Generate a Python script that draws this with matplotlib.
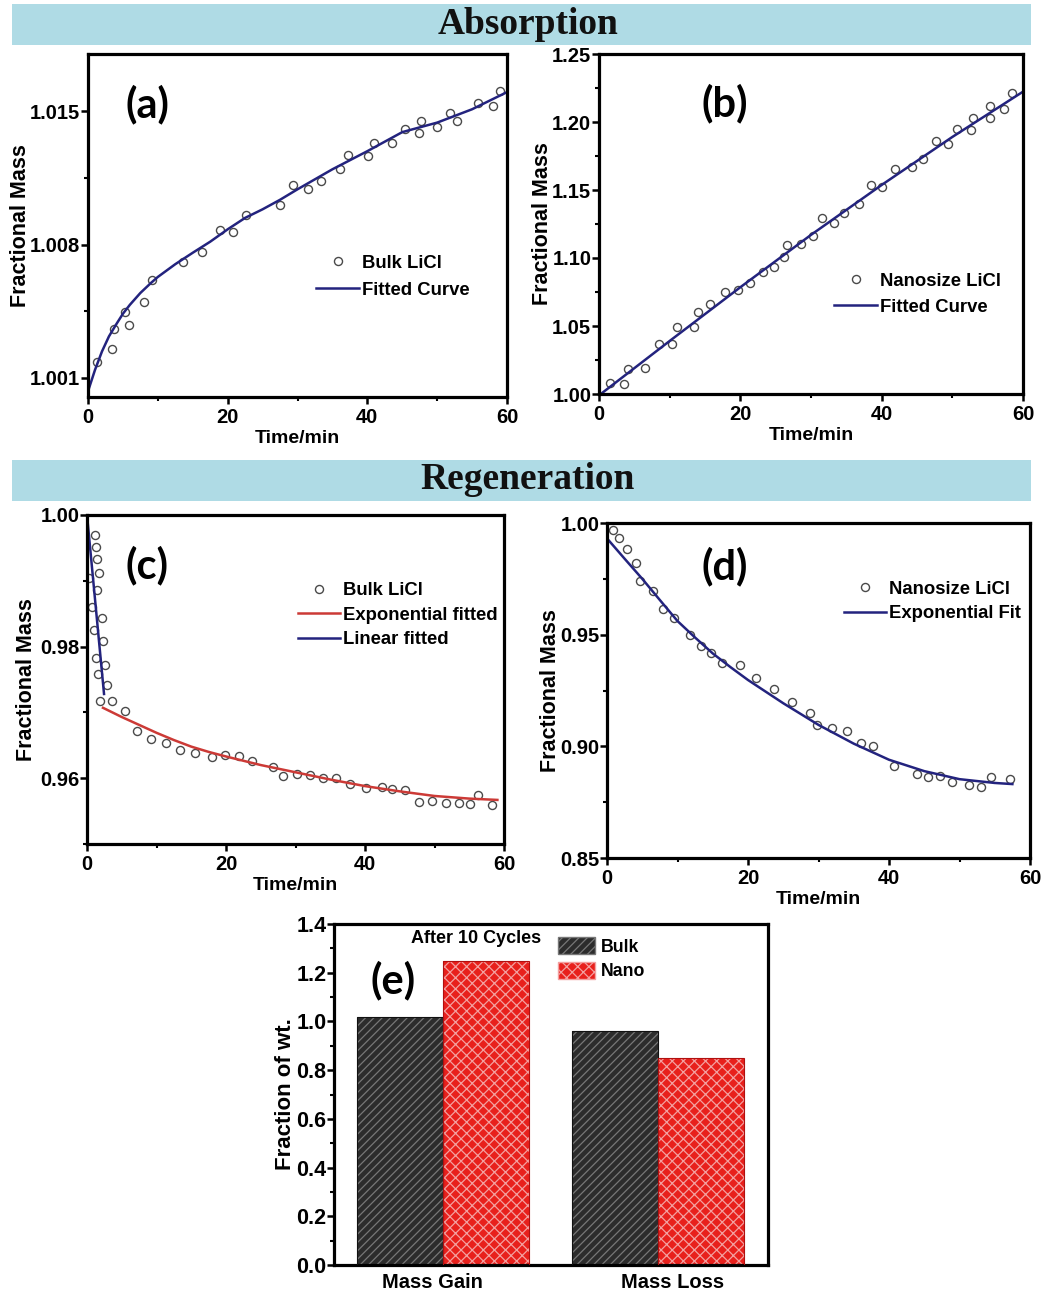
import matplotlib
matplotlib.use("Agg")
import matplotlib.pyplot as plt
import matplotlib.transforms as mtransforms
from matplotlib.patches import Rectangle, Patch
from matplotlib.ticker import MultipleLocator, FixedLocator, FormatStrFormatter

# ---- (a) absorption, bulk LiCl ------------------------------------------
a_t = [1.34, 3.5, 3.7, 5.3, 5.8, 8.0, 9.2, 13.6, 16.3, 18.9, 20.8, 22.6,
       27.5, 29.3, 31.5, 33.4, 36.1, 37.2, 40.1, 40.9, 43.5, 45.4, 47.4,
       47.7, 50.0, 51.9, 52.9, 55.8, 58.0, 59.0]
a_m = [1.00184, 1.00251, 1.00359, 1.00445, 1.00378, 1.00499, 1.00615,
       1.00707, 1.00760, 1.00874, 1.00865, 1.00955, 1.01007, 1.01111,
       1.01094, 1.01136, 1.01196, 1.01270, 1.01264, 1.01331, 1.01331,
       1.01407, 1.01387, 1.01451, 1.01419, 1.01488, 1.01451, 1.01542,
       1.01528, 1.01605]
a_fit_t = [0, 1, 2, 3, 4, 5, 6, 7.5, 9, 10, 12.5, 15, 17.5, 20, 22.5, 25,
           27.5, 30, 35, 40, 45, 50, 55, 60]
a_fit_m = [1.00030, 1.00142, 1.00239, 1.00318, 1.00379, 1.00437, 1.00484,
           1.00546, 1.00598, 1.00630, 1.00697, 1.00757, 1.00815, 1.00880,
           1.00940, 1.00985, 1.01035, 1.01090, 1.01195, 1.01290, 1.01390,
           1.01440, 1.01510, 1.01600]

# ---- (b) absorption, nanosize LiCl --------------------------------------
b_t = [1.56, 3.5, 4.15, 6.5, 8.5, 10.4, 11.0, 13.4, 13.95, 15.75, 17.9,
       19.7, 21.4, 23.2, 24.8, 26.2, 26.6, 28.6, 30.3, 31.6, 33.25, 34.65,
       36.8, 38.5, 40.1, 41.9, 44.3, 45.9, 47.7, 49.4, 50.6, 52.7, 52.9,
       55.3, 55.4, 57.25, 58.4]
b_m = [1.0078, 1.0071, 1.0181, 1.0194, 1.0365, 1.0365, 1.0490, 1.0495,
       1.0605, 1.0659, 1.0752, 1.0765, 1.0814, 1.0895, 1.0936, 1.1010,
       1.1098, 1.1100, 1.1162, 1.1292, 1.1260, 1.1328, 1.1397, 1.1539,
       1.1525, 1.1654, 1.1672, 1.1725, 1.1863, 1.1841, 1.1951, 1.1941,
       1.2027, 1.2032, 1.2118, 1.2093, 1.2211]
b_fit_t = [0, 10, 20, 30, 40, 50, 60]
b_fit_m = [0.999, 1.039, 1.0785, 1.117, 1.1537, 1.189, 1.2223]

# ---- (c) regeneration, bulk LiCl ----------------------------------------
c_t = [0.3, 0.67, 1.0, 1.1, 1.25, 1.44, 1.68, 1.44, 1.35, 1.58, 2.2, 2.35,
       2.6, 2.83, 1.82, 3.6, 5.5, 7.2, 9.2, 11.4, 13.4, 15.5, 18.0, 19.9,
       21.8, 23.8, 26.8, 28.2, 30.2, 32.1, 34.0, 35.8, 37.9, 40.1, 42.4,
       43.9, 45.75, 47.8, 49.7, 51.6, 53.5, 55.1, 56.2, 58.3]
c_m = [0.9904, 0.9860, 0.9825, 0.9969, 0.9951, 0.9933, 0.9912, 0.9886,
       0.9782, 0.9759, 0.9843, 0.9809, 0.9772, 0.9742, 0.9718, 0.9717,
       0.9702, 0.9671, 0.9659, 0.9653, 0.9643, 0.9639, 0.9632, 0.9636,
       0.9633, 0.9626, 0.9617, 0.9603, 0.9607, 0.9605, 0.9601, 0.9600,
       0.9591, 0.9585, 0.9587, 0.9584, 0.9582, 0.9564, 0.9565, 0.9562,
       0.9562, 0.9561, 0.9574, 0.9559]
c_lin_t = [0.0, 2.45]
c_lin_m = [1.000, 0.9728]
c_exp_t = [2.3, 5, 7.5, 10, 12.5, 15, 17.5, 20, 25, 30, 35, 40, 45, 50, 55,
           59.05]
c_exp_m = [0.9707, 0.9693, 0.9681, 0.9669, 0.9658, 0.9648, 0.9640, 0.9633,
           0.9620, 0.9609, 0.9598, 0.9588, 0.9580, 0.9573, 0.9569, 0.9567]

# ---- (d) regeneration, nanosize LiCl ------------------------------------
d_t = [0.85, 1.7, 2.9, 4.06, 4.7, 6.57, 7.98, 9.5, 11.76, 13.3, 14.8, 16.25,
       18.85, 21.07, 23.67, 26.3, 28.8, 29.76, 31.98, 34.0, 36.0, 37.8,
       40.67, 44.0, 45.6, 47.2, 48.9, 51.3, 53.1, 54.5, 57.2]
d_m = [0.9967, 0.9934, 0.9884, 0.9821, 0.9739, 0.9695, 0.9614, 0.9574,
       0.9498, 0.9450, 0.9418, 0.9374, 0.9365, 0.9306, 0.9258, 0.9199,
       0.9148, 0.9094, 0.9084, 0.9069, 0.9017, 0.9002, 0.8914, 0.8875,
       0.8862, 0.8865, 0.8841, 0.8828, 0.8820, 0.8863, 0.8853]
d_fit_t = [0, 2.5, 5, 7.5, 10, 12.5, 15, 17.5, 20, 25, 30, 35, 40, 45, 50,
           55, 57.5]
d_fit_m = [0.9931, 0.9840, 0.9750, 0.9655, 0.9561, 0.9487, 0.9416, 0.9355,
           0.9297, 0.9193, 0.9096, 0.9012, 0.8940, 0.8889, 0.8853, 0.8836,
           0.8831]

# ---- (e) after 10 cycles ------------------------------------------------
e_groups = ["Mass Gain", "Mass Loss"]
e_bulk = [1.02, 0.96]
e_nano = [1.25, 0.85]

W, H = 1045, 1295
FONT = ["Liberation Sans", "DejaVu Sans"]
plt.rcParams["font.family"] = FONT
plt.rcParams["font.weight"] = "bold"
plt.rcParams["axes.labelweight"] = "bold"
plt.rcParams["hatch.linewidth"] = 0.9

NAVY = "#23237e"
RED = "#cc3a36"
MK = dict(ls="none", marker="o", ms=5.8, mfc="none", mec="#4a4a4a", mew=1.0)

fig = plt.figure(figsize=(W / 100, H / 100), dpi=100)


def px_axes(l, r, t, b):
    return fig.add_axes([l / W, 1 - b / H, (r - l) / W, (b - t) / H])


def style(ax, fs=14.5):
    for s in ax.spines.values():
        s.set_linewidth(2.3)
    ax.tick_params(which="major", direction="out", length=5, width=1.8,
                   labelsize=fs)
    ax.tick_params(which="minor", direction="out", length=3, width=1.5)
    ax.tick_params(axis="x", which="major", pad=3)
    ax.tick_params(axis="y", which="major", pad=0.5)
    for lab in ax.get_xticklabels() + ax.get_yticklabels():
        lab.set_fontweight("bold")


def time_axis(ax, ypad=-1):
    ax.set_xlim(0, 60)
    ax.xaxis.set_major_locator(MultipleLocator(20))
    ax.xaxis.set_minor_locator(MultipleLocator(10))
    ax.set_xlabel("Time/min", fontsize=14, labelpad=2)
    ax.set_ylabel("Fractional Mass", fontsize=15.5, labelpad=ypad)


def banner(y0, y1, text, yc):
    fig.add_artist(Rectangle((12 / W, 1 - y1 / H), (1031 - 12) / W,
                             (y1 - y0) / H, transform=fig.transFigure,
                             facecolor="#afdbe5", edgecolor="none"))
    fig.text(528 / W, 1 - yc / H, text, ha="center", va="center",
             fontsize=27, fontweight="bold", family="Liberation Serif",
             color="#111111")


def panel_tag(ax, x, y, s):
    ax.text(x, y, s, transform=ax.transAxes, ha="center", va="center",
            fontsize=30, fontweight="bold", family=["Lato", "DejaVu Sans"])


def legend(ax, x, y, fs=13.3, spacing=0.45):
    leg = ax.legend(loc="upper left", bbox_to_anchor=(x, y), frameon=False,
                    fontsize=fs, borderpad=0, borderaxespad=0,
                    handlelength=2.3, handletextpad=0.15,
                    labelspacing=spacing)
    for t in leg.get_texts():
        t.set_fontweight("bold")
    return leg


banner(4, 45, "Absorption", 24)
banner(460, 501, "Regeneration", 480)

# (a)
ax = px_axes(88, 507, 54, 397)
ax.plot(a_t, a_m, label="Bulk LiCl", **MK)
ax.plot(a_fit_t, a_fit_m, color=NAVY, lw=1.8, label="Fitted Curve")
ax.set_ylim(1.000, 1.018)
ax.yaxis.set_major_locator(FixedLocator([1.001, 1.008, 1.015]))
ax.yaxis.set_minor_locator(FixedLocator([1.0045, 1.0115]))
ax.yaxis.set_major_formatter(FormatStrFormatter("%.3f"))
time_axis(ax)
style(ax)
legend(ax, 0.545, 0.415, spacing=0.55)
panel_tag(ax, 0.141, 0.854, "(a)")

# (b)
ax = px_axes(599, 1023, 54, 394)
ax.plot(b_t, b_m, label="Nanosize LiCl", **MK)
ax.plot(b_fit_t, b_fit_m, color=NAVY, lw=1.8, label="Fitted Curve")
ax.set_ylim(1.00, 1.25)
ax.yaxis.set_major_locator(MultipleLocator(0.05))
ax.yaxis.set_minor_locator(MultipleLocator(0.025))
ax.yaxis.set_major_formatter(FormatStrFormatter("%.2f"))
time_axis(ax)
style(ax)
legend(ax, 0.555, 0.357, spacing=0.5)
panel_tag(ax, 0.297, 0.856, "(b)")

# (c)
ax = px_axes(87, 504, 515, 844)
ax.plot(c_t, c_m, label="Bulk LiCl", **MK)
ax.plot(c_exp_t, c_exp_m, color=RED, lw=1.8, label="Exponential fitted")
ax.plot(c_lin_t, c_lin_m, color=NAVY, lw=1.8, label="Linear fitted")
ax.set_ylim(0.95, 1.00)
ax.yaxis.set_major_locator(FixedLocator([0.96, 0.98, 1.00]))
ax.yaxis.set_minor_locator(FixedLocator([0.95, 0.97, 0.99]))
ax.yaxis.set_major_formatter(FormatStrFormatter("%.2f"))
time_axis(ax, ypad=2)
style(ax)
legend(ax, 0.505, 0.795, spacing=0.4)
panel_tag(ax, 0.144, 0.848, "(c)")

# (d)
ax = px_axes(607, 1030, 523, 858)
ax.plot(d_t, d_m, label="Nanosize LiCl", **MK)
ax.plot(d_fit_t, d_fit_m, color=NAVY, lw=1.8, label="Exponential Fit")
ax.set_ylim(0.85, 1.00)
ax.yaxis.set_major_locator(MultipleLocator(0.05))
ax.yaxis.set_minor_locator(MultipleLocator(0.025))
ax.yaxis.set_major_formatter(FormatStrFormatter("%.2f"))
time_axis(ax)
style(ax)
legend(ax, 0.56, 0.828, spacing=0.4)
panel_tag(ax, 0.279, 0.869, "(d)")

# (e)
ax = px_axes(334, 768, 924, 1265)
xs = range(len(e_groups))
bw = 0.40
BULK_FILL, BULK_HATCH = "#2c2c2c", "#777777"
NANO_FILL, NANO_HATCH = "#e8201c", "#f3a0a0"
ax.bar([x - bw / 2 for x in xs], e_bulk, bw, color=BULK_FILL,
       edgecolor=BULK_HATCH, hatch="////", lw=0, zorder=2)
ax.bar([x - bw / 2 for x in xs], e_bulk, bw, fill=False,
       edgecolor="#111111", lw=0.8, zorder=3)
ax.bar([x + bw / 2 for x in xs], e_nano, bw, color=NANO_FILL,
       edgecolor=NANO_HATCH, hatch="xxx", lw=0, zorder=2)
ax.bar([x + bw / 2 for x in xs], e_nano, bw, fill=False,
       edgecolor="#b01010", lw=0.8, zorder=3)
ax.set_xlim(-0.505, 1.51)
ax.set_ylim(0, 1.4)
ax.set_xticks(list(xs))
ax.set_xticklabels(e_groups)
ax.yaxis.set_major_locator(MultipleLocator(0.2))
ax.yaxis.set_minor_locator(MultipleLocator(0.1))
ax.yaxis.set_major_formatter(FormatStrFormatter("%.1f"))
ax.set_ylabel("Fraction of wt.", fontsize=16, labelpad=0)
style(ax, fs=15.5)
ax.tick_params(axis="x", which="both", length=0, labelsize=14.5, pad=6)
# the source nudges the group labels a little off the bar-pair centres
for lab, dx in zip(ax.get_xticklabels(), [-10, 14]):
    lab.set_fontweight("bold")
    lab.set_transform(lab.get_transform() + mtransforms.ScaledTranslation(
        dx / 100, 0, fig.dpi_scale_trans))
handles = [Patch(facecolor=BULK_FILL, edgecolor=BULK_HATCH, hatch="////",
                 label="Bulk"),
           Patch(facecolor=NANO_FILL, edgecolor=NANO_HATCH, hatch="xxx",
                 label="Nano")]
leg = ax.legend(handles=handles, loc="upper left", bbox_to_anchor=(0.516, 0.962),
                frameon=False, fontsize=12.8, borderpad=0, borderaxespad=0,
                handlelength=2.1, handleheight=1.1, handletextpad=0.3,
                labelspacing=0.35)
for t in leg.get_texts():
    t.set_fontweight("bold")
ax.text(0.327, 0.958, "After 10 Cycles", transform=ax.transAxes,
        ha="center", va="center", fontsize=13, fontweight="bold")
panel_tag(ax, 0.136, 0.836, "(e)")

fig.savefig("out.png", dpi=100)
